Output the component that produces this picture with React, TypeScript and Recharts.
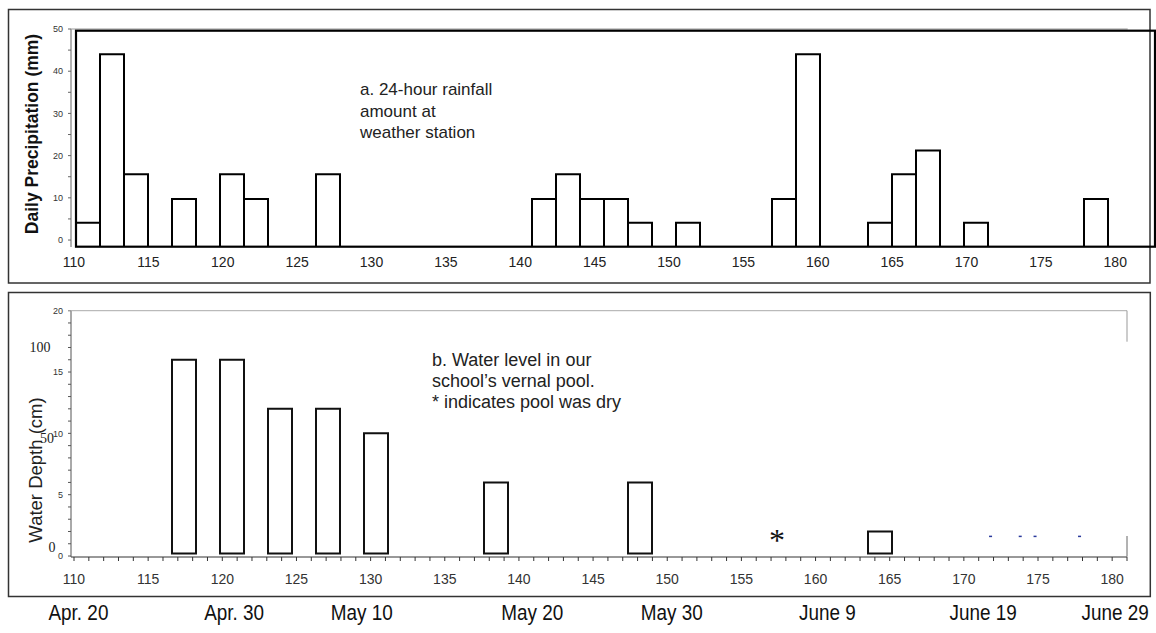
import React from 'react';
import { ComposedChart, Bar, Scatter, XAxis, YAxis } from 'recharts';

// both panels share one grid of 45 boxes, each box ~1.6 days wide
const precipMm = [
  4.1, 44, 15.6, 0, 9.7, 0, 15.6, 9.7, 0, 0, 15.6, 0, 0, 0, 0,
  0, 0, 0, 0, 9.7, 15.6, 9.7, 9.7, 4.1, 0, 4.1, 0, 0, 0, 9.7,
  44, 0, 0, 4.1, 15.6, 21.2, 0, 4.1, 0, 0, 0, 0, 9.7, 0, 0,
];

const waterCm = [
  0, 0, 0, 0, 16, 0, 16, 0, 12, 0, 12, 0, 10, 0, 0,
  0, 0, 6, 0, 0, 0, 0, 0, 6, 0, 0, 0, 0, 0, 0,
  0, 0, 0, 2, 0, 0, 0, 0, 0, 0, 0, 0, 0, 0, 0,
];

const dayLabels = [110, 115, 120, 125, 130, 135, 140, 145, 150, 155, 160, 165, 170, 175, 180];
const mmTicks = [0, 5, 10, 15, 20, 25, 30, 35, 40, 45, 50];
const cmTicks = [0, 1, 2, 3, 4, 5, 6, 7, 8, 9, 10, 11, 12, 13, 14, 15, 16, 17, 18, 19, 20];

const dateLabels = ['Apr. 20', 'Apr. 30', 'May 10', 'May 20', 'May 30', 'June 9', 'June 19', 'June 29'];
const dateTickDays = [110.3, 120.8, 129.4, 140.9, 150.3, 160.8, 171.3, 180.2];

const rainMarks = [{ day: 109.8, v: 1.9 }];
const dryDays = [{ day: 157.4, v: 1.55 }];
const blueDashes = [
  { day: 171.8, v: 1.6 },
  { day: 173.8, v: 1.6 },
  { day: 174.8, v: 1.6 },
  { day: 177.8, v: 1.6 },
];

const FONT = '"Liberation Sans", Arial, sans-serif';
const SERIF = '"Liberation Serif", "Times New Roman", serif';

// boxes start at the frame bottom, a bit under the zero tick
const PRECIP_FLOOR = -1.65;
const WATER_FLOOR = -0.08;
const WATER_BAR_BASE = 0.2;

const dailyTicks = Array.from({ length: 72 }, (_, i) => 110 + i);

const precipRows = precipMm.map((mm, i) => ({ bin: i, range: mm > 0 ? [PRECIP_FLOOR, mm] : 0 }));
const waterRows = waterCm.map((cm, i) => ({ bin: i, range: cm > 0 ? [WATER_BAR_BASE, cm] : 0 }));

const Diamond = (props: any) => {
  const { cx, cy } = props;
  return <path d={`M${cx},${cy - 3}L${cx + 3},${cy}L${cx},${cy + 3}L${cx - 3},${cy}Z`} fill="#1c2a8c" />;
};

const Dash = (props: any) => {
  const { cx, cy } = props;
  return <rect x={cx - 1.5} y={cy - 0.75} width={3} height={1.5} fill="#2a3a9c" />;
};

const Star = (props: any) => {
  const { cx, cy } = props;
  return (
    <text x={cx} y={cy + 14} textAnchor="middle" fontSize={32} fontFamily={SERIF} fill="#111">
      *
    </text>
  );
};

// the date row uses a condensed face; squeeze it sideways
const DateTick = (props: any) => {
  const { x, y, payload } = props;
  const label = dateLabels[dateTickDays.indexOf(payload.value)] ?? '';
  return (
    <text
      transform={`translate(${x},${y}) scale(0.86,1)`}
      textAnchor="middle"
      dy="0.71em"
      fontSize={22}
      fontFamily={FONT}
      fill="#111"
    >
      {label}
    </text>
  );
};

const TopPanel = () => (
  <ComposedChart
    width={1156}
    height={290}
    data={precipRows}
    margin={{ top: 29, right: 0, bottom: 13, left: 0 }}
    barCategoryGap={0}
    barGap={0}
  >
    <XAxis xAxisId="bins" dataKey="bin" type="category" hide height={0} padding={{ left: 5, right: 0 }} />
    <XAxis
      xAxisId="days"
      dataKey="day"
      type="number"
      domain={[110, 182]}
      allowDataOverflow
      padding={{ left: 3, right: 11 }}
      ticks={dayLabels}
      interval={0}
      axisLine={false}
      tickLine={false}
      tickSize={0}
      tickMargin={10}
      height={30}
      tick={{ fontSize: 14, fill: '#222', fontFamily: FONT }}
    />
    <YAxis
      yAxisId="mm"
      type="number"
      width={71}
      domain={[PRECIP_FLOOR, 50]}
      allowDataOverflow
      ticks={mmTicks}
      interval={0}
      tickFormatter={(v: number) => (v % 10 === 0 ? String(v) : '')}
      tickSize={3}
      tickMargin={5}
      axisLine={{ stroke: '#666' }}
      tickLine={{ stroke: '#666' }}
      tick={{ fontSize: 9, fill: '#333', fontFamily: FONT }}
    />
    <Bar xAxisId="bins" yAxisId="mm" dataKey="range" fill="#fff" stroke="#000" strokeWidth={2} isAnimationActive={false} />
    <Scatter xAxisId="days" yAxisId="mm" data={rainMarks} dataKey="v" shape={Diamond} isAnimationActive={false} />
  </ComposedChart>
);

const BottomPanel = () => (
  <ComposedChart
    width={1156}
    height={343}
    data={waterRows}
    margin={{ top: 20.7, right: 29, bottom: 6, left: 0 }}
    barCategoryGap={0}
    barGap={0}
  >
    <XAxis xAxisId="bins" dataKey="bin" type="category" hide height={0} padding={{ left: 5, right: -29 }} />
    <XAxis
      xAxisId="x2dates"
      dataKey="day"
      type="number"
      domain={[110, 181]}
      allowDataOverflow
      padding={{ left: 3, right: 0 }}
      ticks={dateTickDays}
      interval={0}
      axisLine={false}
      tickLine={false}
      tickSize={0}
      tickMargin={17}
      height={40}
      tick={<DateTick />}
    />
    <XAxis
      xAxisId="x1days"
      dataKey="day"
      type="number"
      domain={[110, 181]}
      allowDataOverflow
      padding={{ left: 3, right: 0 }}
      ticks={dailyTicks}
      interval={0}
      tickFormatter={(d: number) => (d % 5 === 0 && d <= 180 ? String(d) : '')}
      tickSize={4}
      tickMargin={13}
      axisLine={{ stroke: '#333' }}
      tickLine={{ stroke: '#333' }}
      height={30}
      tick={{ fontSize: 14, fill: '#333', fontFamily: FONT }}
    />
    <YAxis
      yAxisId="cm"
      type="number"
      width={71}
      domain={[WATER_FLOOR, 20]}
      allowDataOverflow
      ticks={cmTicks}
      interval={0}
      tickFormatter={(v: number) => (v % 5 === 0 ? String(v) : '')}
      tickSize={3}
      tickMargin={5}
      axisLine={{ stroke: '#555' }}
      tickLine={{ stroke: '#555' }}
      tick={{ fontSize: 9, fill: '#333', fontFamily: FONT }}
    />
    <Bar xAxisId="bins" yAxisId="cm" dataKey="range" fill="#fff" stroke="#111" strokeWidth={2} isAnimationActive={false} />
    <Scatter xAxisId="x1days" yAxisId="cm" data={dryDays} dataKey="v" shape={Star} isAnimationActive={false} />
    <Scatter xAxisId="x1days" yAxisId="cm" data={blueDashes} dataKey="v" shape={Dash} isAnimationActive={false} />
  </ComposedChart>
);

export default function App() {
  return (
    <div style={{ position: 'absolute', left: 0, top: 0, width: 1156, height: 633, background: '#fff', overflow: 'hidden' }}>
      <div style={{ position: 'absolute', left: 0, top: 0 }}>
        <TopPanel />
      </div>
      <div style={{ position: 'absolute', left: 0, top: 290 }}>
        <BottomPanel />
      </div>
      <svg
        width={1156}
        height={633}
        style={{ position: 'absolute', left: 0, top: 0, pointerEvents: 'none' }}
        fontFamily={FONT}
      >
        {/* panel a */}
        <rect x={8.5} y={9.5} width={1141.5} height={273.5} fill="none" stroke="#333" strokeWidth={1.5} />
        <line x1={70.7} y1={29} x2={1127.7} y2={29} stroke="#999" strokeWidth={1} />
        <rect x={76} y={30.7} width={1079} height={216} fill="none" stroke="#000" strokeWidth={2.2} />
        <text x={32} y={134} transform="rotate(-90 32 134)" textAnchor="middle" dominantBaseline="central" fontSize={17.5} fontWeight="bold" fill="#111">
          Daily Precipitation (mm)
        </text>
        <text fontSize={17} fill="#222">
          <tspan x={360} y={95}>a. 24-hour rainfall</tspan>
          <tspan x={360} y={117}>amount at</tspan>
          <tspan x={360} y={138}>weather station</tspan>
        </text>

        {/* panel b */}
        <rect x={8.5} y={292.5} width={1141.8} height={304} fill="none" stroke="#333" strokeWidth={1.5} />
        <line x1={68} y1={310.7} x2={1127} y2={310.7} stroke="#aaa" strokeWidth={1} />
        <line x1={1127} y1={310.7} x2={1127} y2={341.7} stroke="#999" strokeWidth={1} />
        <line x1={1127} y1={536} x2={1127} y2={556.7} stroke="#666" strokeWidth={1} />
        <text x={35} y={470} transform="rotate(-90 35 470)" textAnchor="middle" dominantBaseline="central" fontSize={18.5} fill="#222">
          Water Depth (cm)
        </text>
        <text fontFamily={SERIF} fontSize={14} fill="#222" textAnchor="middle" dominantBaseline="central">
          <tspan x={40} y={347}>100</tspan>
          <tspan x={47} y={438}>50</tspan>
          <tspan x={52} y={547}>0</tspan>
        </text>
        <text fontSize={18} fill="#222">
          <tspan x={432} y={366}>b. Water level in our</tspan>
          <tspan x={432} y={387}>school’s vernal pool.</tspan>
          <tspan x={432} y={408}>* indicates pool was dry</tspan>
        </text>
      </svg>
    </div>
  );
}
